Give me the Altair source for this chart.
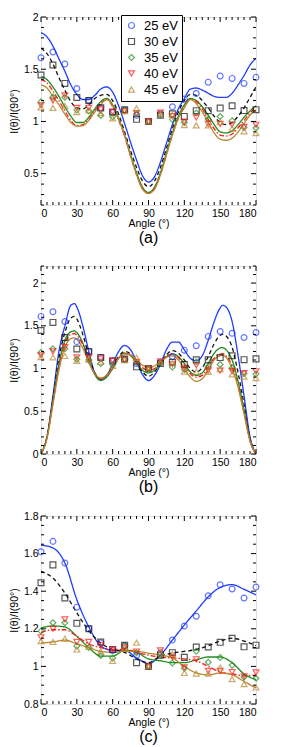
import altair as alt
import pandas as pd

FONT = "Liberation Sans"

energies = ["25 eV", "30 eV", "35 eV", "40 eV", "45 eV"]
colors = ["#1f3cff", "#111111", "#1e8c1e", "#ff1a1a", "#b8862e"]
shapes = ["circle", "square", "diamond", "triangle-down", "triangle-up"]
dashes = [[1, 0], [4, 3], [1, 0], [5, 2, 1.5, 2], [1, 0]]

# experimental points (same in all panels)
exp_angles = list(range(0, 181, 10))
exp_25 = [1.61, 1.665, 1.55, 1.315, 1.20, 1.125, 1.085, 1.11, 1.058, 1.0, 1.073, 1.14, 1.215, 1.267, 1.376, 1.434, 1.412, 1.364, 1.422]
exp_30 = [1.445, 1.54, 1.364, 1.229, 1.20, 1.13, 1.09, 1.112, 1.02, 1.0, 1.06, 1.073, 1.048, 1.103, 1.103, 1.128, 1.15, 1.104, 1.113]
exp_35 = [1.188, 1.232, 1.232, 1.109, 1.10, 1.058, 1.045, 1.11, 1.073, 1.0, 1.064, 1.018, 0.99, 1.08, 1.022, 1.047, 1.006, 0.943, 0.937]
exp_40 = [1.155, 1.20, 1.25, 1.13, 1.13, 1.115, 1.09, 1.10, 1.079, 1.0, 1.085, 1.05, 0.995, 1.038, 0.976, 0.976, 0.97, 0.947, 0.968]
exp_45 = [1.135, 1.13, 1.147, 1.09, 1.105, 1.079, 1.03, 1.10, 1.126, 1.0, 1.074, 1.065, 0.965, 0.962, 0.962, 0.994, 0.932, 0.906, 0.888]

# panel (a) fits
a_angles = list(range(0, 181, 5))
a_25 = [1.85, 1.81, 1.72, 1.6, 1.48, 1.35, 1.26, 1.21, 1.21, 1.25, 1.31, 1.33, 1.28, 1.15, 0.98, 0.8, 0.63, 0.48, 0.42, 0.47, 0.61, 0.79, 0.97, 1.12, 1.22, 1.31, 1.32, 1.30, 1.27, 1.24, 1.23, 1.23, 1.27, 1.35, 1.44, 1.54, 1.605]
a_30 = [1.70, 1.65, 1.55, 1.42, 1.30, 1.19, 1.13, 1.12, 1.16, 1.22, 1.25, 1.26, 1.20, 1.07, 0.90, 0.72, 0.56, 0.43, 0.375, 0.43, 0.56, 0.74, 0.93, 1.09, 1.20, 1.26, 1.25, 1.20, 1.13, 1.05, 0.99, 0.97, 0.99, 1.05, 1.13, 1.23, 1.33]
a_35 = [1.43, 1.40, 1.33, 1.24, 1.14, 1.05, 0.99, 0.99, 1.04, 1.12, 1.19, 1.22, 1.16, 1.03, 0.87, 0.68, 0.51, 0.37, 0.32, 0.37, 0.51, 0.70, 0.89, 1.05, 1.16, 1.22, 1.20, 1.14, 1.06, 0.97, 0.90, 0.89, 0.91, 0.97, 1.04, 1.10, 1.15]
a_40 = [1.40, 1.37, 1.29, 1.20, 1.10, 1.01, 0.96, 0.97, 1.02, 1.10, 1.17, 1.21, 1.14, 1.01, 0.86, 0.67, 0.49, 0.36, 0.31, 0.36, 0.49, 0.68, 0.87, 1.03, 1.14, 1.21, 1.19, 1.12, 1.02, 0.93, 0.87, 0.86, 0.88, 0.94, 1.01, 1.08, 1.14]
a_45 = [1.35, 1.32, 1.24, 1.16, 1.07, 0.99, 0.955, 0.96, 1.01, 1.09, 1.16, 1.21, 1.15, 1.02, 0.87, 0.67, 0.49, 0.35, 0.31, 0.35, 0.49, 0.68, 0.87, 1.03, 1.13, 1.21, 1.17, 1.09, 0.99, 0.89, 0.83, 0.82, 0.84, 0.90, 0.98, 1.06, 1.11]

# panel (b) fits
b_angles = [0, 5, 10, 15, 20, 25, 28] + list(range(30, 151, 5)) + [152, 155, 160, 165, 170, 175, 180]
b_25 = [0, 0.2, 0.68, 1.2, 1.5, 1.74, 1.76, 1.72, 1.5, 1.2, 0.95, 0.87, 0.92, 1.05, 1.2, 1.27, 1.22, 1.08, 0.93, 0.86, 0.92, 1.05, 1.22, 1.31, 1.31, 1.22, 1.12, 1.09, 1.15, 1.33, 1.55, 1.71, 1.74, 1.72, 1.55, 1.15, 0.68, 0.2, 0]
b_30 = [0, 0.2, 0.65, 1.12, 1.42, 1.59, 1.61, 1.58, 1.4, 1.15, 0.95, 0.88, 0.92, 1.02, 1.14, 1.2, 1.17, 1.07, 0.96, 0.91, 0.96, 1.06, 1.16, 1.21, 1.18, 1.1, 1.0, 0.96, 1.01, 1.14, 1.29, 1.39, 1.40, 1.38, 1.25, 0.95, 0.58, 0.18, 0]
b_35 = [0, 0.2, 0.62, 1.05, 1.33, 1.43, 1.44, 1.42, 1.3, 1.1, 0.93, 0.86, 0.9, 1.0, 1.12, 1.18, 1.15, 1.07, 0.98, 0.95, 0.98, 1.06, 1.14, 1.17, 1.14, 1.06, 0.96, 0.92, 0.95, 1.06, 1.18, 1.24, 1.245, 1.22, 1.1, 0.85, 0.52, 0.16, 0]
b_40 = [0, 0.19, 0.6, 1.02, 1.3, 1.4, 1.41, 1.39, 1.28, 1.09, 0.94, 0.88, 0.91, 1.0, 1.12, 1.18, 1.16, 1.09, 1.01, 0.98, 1.0, 1.07, 1.14, 1.17, 1.13, 1.04, 0.94, 0.9, 0.92, 1.02, 1.12, 1.17, 1.175, 1.15, 1.03, 0.8, 0.48, 0.15, 0]
b_45 = [0, 0.18, 0.58, 0.98, 1.25, 1.35, 1.36, 1.34, 1.24, 1.07, 0.94, 0.89, 0.92, 1.01, 1.12, 1.17, 1.16, 1.1, 1.04, 1.01, 1.03, 1.08, 1.13, 1.15, 1.1, 1.0, 0.9, 0.85, 0.88, 0.98, 1.1, 1.15, 1.155, 1.13, 1.0, 0.78, 0.47, 0.15, 0]

# panel (c) fits
c_angles = list(range(0, 181, 10))
c_25 = [1.645, 1.63, 1.55, 1.355, 1.21, 1.11, 1.085, 1.085, 1.045, 1.015, 1.06, 1.14, 1.22, 1.295, 1.37, 1.42, 1.435, 1.41, 1.38]
c_30 = [1.505, 1.47, 1.39, 1.285, 1.19, 1.125, 1.09, 1.075, 1.04, 1.02, 1.055, 1.07, 1.08, 1.09, 1.11, 1.135, 1.15, 1.135, 1.11]
c_35 = [1.205, 1.215, 1.21, 1.16, 1.10, 1.055, 1.055, 1.085, 1.075, 1.04, 1.03, 1.02, 1.02, 1.035, 1.05, 1.05, 1.02, 0.96, 0.93]
c_40 = [1.18, 1.195, 1.195, 1.16, 1.12, 1.10, 1.09, 1.09, 1.075, 1.06, 1.05, 1.045, 1.04, 1.03, 1.0, 0.97, 0.96, 0.95, 0.955]
c_45 = [1.125, 1.13, 1.14, 1.12, 1.10, 1.08, 1.075, 1.08, 1.08, 1.07, 1.06, 1.045, 1.0, 0.965, 0.955, 0.965, 0.955, 0.92, 0.885]

# axis ticks
x_major = list(range(0, 181, 30))
x_minor = [v for v in range(0, 181, 5) if v % 30]
W, H = 215, 188

exp_series = [exp_25, exp_30, exp_35, exp_40, exp_45]
exp_df = pd.DataFrame([
    {"angle": a, "value": v, "energy": e}
    for e, ser in zip(energies, exp_series) for a, v in zip(exp_angles, ser)
])


def panel(label, fit_angles, fits, ydom, ymajor, yminor, legend_xy):
    xs = alt.Scale(domain=[0, 180], nice=False, zero=False)
    ys = alt.Scale(domain=ydom, nice=False, zero=False)
    xax = alt.Axis(values=x_major, ticks=False, domain=False, grid=False,
                   labelFont=FONT, labelFontSize=10.5, labelPadding=3, labelColor="black",
                   title="Angle (°)", titleFont=FONT, titleFontSize=10.5,
                   titleFontWeight="normal", titlePadding=0, titleColor="black")
    yax = alt.Axis(values=ymajor, ticks=False, domain=False, grid=False, format="~g",
                   labelFont=FONT, labelFontSize=10.5, labelPadding=3, labelColor="black",
                   title="I(θ)/I(90°)", titleFont=FONT, titleFontSize=10.5,
                   titleFontWeight="normal", titlePadding=4, titleColor="black")
    layers = []
    for e, ser, col, dash in zip(energies, fits, colors, dashes):
        df = pd.DataFrame({"angle": fit_angles, "value": ser})
        layers.append(
            alt.Chart(df).mark_line(color=col, strokeDash=dash, strokeWidth=1.3,
                                    interpolate="monotone", clip=True)
            .encode(x=alt.X("angle:Q", scale=xs, axis=xax),
                    y=alt.Y("value:Q", scale=ys, axis=yax))
        )
    leg = alt.Legend(orient="none", legendX=legend_xy[0], legendY=legend_xy[1],
                     strokeColor="black", fillColor="white", padding=4,
                     labelFont=FONT, labelFontSize=13, labelColor="black",
                     symbolSize=36, symbolStrokeWidth=1.2, rowPadding=2,
                     labelOffset=6)
    layers.append(
        alt.Chart(exp_df).mark_point(filled=False, size=34, strokeWidth=1.2)
        .encode(x=alt.X("angle:Q", scale=xs, axis=xax),
                y=alt.Y("value:Q", scale=ys, axis=yax),
                color=alt.Color("energy:N", title=None,
                                scale=alt.Scale(domain=energies, range=colors), legend=leg),
                shape=alt.Shape("energy:N", title=None,
                                scale=alt.Scale(domain=energies, range=shapes), legend=leg))
    )
    # inward tick marks on all four sides
    for vals, ln in ((x_major, 5), (x_minor, 3)):
        tdf = pd.DataFrame({"t": vals})
        layers.append(alt.Chart(tdf).mark_rule(color="black", strokeWidth=1)
                      .encode(x=alt.X("t:Q", scale=xs, axis=xax),
                              y=alt.value(H), y2=alt.value(H - ln)))
        layers.append(alt.Chart(tdf).mark_rule(color="black", strokeWidth=1)
                      .encode(x=alt.X("t:Q", scale=xs, axis=xax),
                              y=alt.value(0), y2=alt.value(ln)))
    for vals, ln in ((ymajor, 5), (yminor, 3)):
        tdf = pd.DataFrame({"t": vals})
        layers.append(alt.Chart(tdf).mark_rule(color="black", strokeWidth=1)
                      .encode(y=alt.Y("t:Q", scale=ys, axis=yax),
                              x=alt.value(0), x2=alt.value(ln)))
        layers.append(alt.Chart(tdf).mark_rule(color="black", strokeWidth=1)
                      .encode(y=alt.Y("t:Q", scale=ys, axis=yax),
                              x=alt.value(W), x2=alt.value(W - ln)))
    return alt.layer(*layers).properties(
        width=W, height=H,
        title=alt.TitleParams(label, orient="bottom", font=FONT, fontSize=16,
                              fontWeight="normal", color="black", offset=1),
    )


def minors(lo, hi, step, majors):
    out = []
    n = int(round((hi - lo) / step))
    for i in range(n + 1):
        v = round(lo + i * step, 3)
        if all(abs(v - m) > 1e-6 for m in majors):
            out.append(v)
    return out


ya_major = [0.5, 1, 1.5, 2]
yb_major = [0, 0.5, 1, 1.5, 2]
yc_major = [0.8, 1, 1.2, 1.4, 1.6, 1.8]

pa = panel("(a)", a_angles, [a_25, a_30, a_35, a_40, a_45], [0.2, 2.0],
           ya_major, minors(0.2, 2.0, 0.1, ya_major), (80, -2))
pb = panel("(b)", b_angles, [b_25, b_30, b_35, b_40, b_45], [0, 2.2],
           yb_major, minors(0, 2.2, 0.1, yb_major), (73, 0))
pc = panel("(c)", c_angles, [c_25, c_30, c_35, c_40, c_45], [0.8, 1.8],
           yc_major, minors(0.8, 1.8, 0.05, yc_major), (84, 2))

chart = alt.vconcat(alt.vconcat(pa, pb, spacing=18), pc, spacing=14).properties(
    padding={"left": 0, "top": 3, "right": 5, "bottom": 0}
).configure_view(
    stroke="black", strokeWidth=1.3
).configure(background="white")

chart.save("out.html", embed_options={"renderer": "svg", "actions": False})
